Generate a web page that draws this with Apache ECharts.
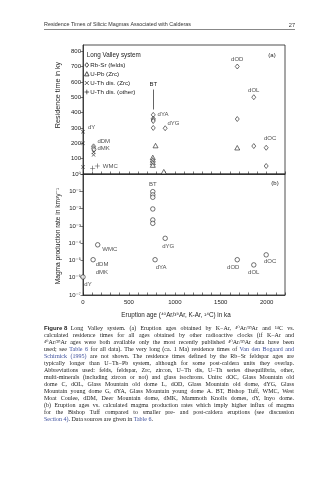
<!DOCTYPE html>
<html>
<head>
<meta charset="utf-8">
<script src="https://cdn.jsdelivr.net/npm/echarts@6/dist/echarts.min.js"></script>
<style>
  html, body { margin: 0; padding: 0; background: #fff; }
  #chart { width: 329px; height: 480px; }
</style>
</head>
<body>
<div id="chart"></div>
<script>
// Long Valley system: (a) residence times and (b) magma production rates vs. eruption age

// ---- (a) residence times (ky) by dating method ----
const rbSrAge = [115, 115, 120, 765, 765, 765, 765, 765, 895, 1680, 1680, 1860, 1860, 1995, 1995];
const rbSrResidence = [180, 168, 158, 385, 360, 352, 345, 300, 298, 700, 358, 500, 182, 171, 52];
const rbSrUnit = ['dDM', 'dMK', '', 'dYA', '', '', '', '', 'dYG', 'dOD', '', 'dOL', '', 'dOC', ''];

const uPbAge = [790, 760, 760, 760, 760, 880, 1680];
const uPbResidence = [185, 108, 92, 75, 58, 15, 171];

const uThZrcAge = [0, 0, 0, 115, 115];
const uThZrcResidence = [275, 200, 45, 142, 125];
const uThZrcUnit = ['dY', '', '', '', ''];

const uThOtherAge = [105, 156];
const uThOtherResidence = [37, 52];
const uThOtherUnit = ['', 'WMC'];

// ---- (b) magma production rate (km3/y) ----
const rateAge = [760, 760, 760, 760, 760, 760, 0, 110, 160, 785, 895, 1680, 1860, 1995];
const rateValue = [0.095, 0.062, 0.045, 0.0095, 0.0022, 0.0014, 1.1e-6, 1.1e-5, 8e-5, 1.1e-5, 1.9e-4, 1.1e-5, 5.5e-6, 2.1e-5];
const rateUnit = ['BT', '', '', '', '', '', 'dY', 'dDM\ndMK', 'WMC', 'dYA', 'dYG', 'dOD', 'dOL', 'dOC'];

// ---- axes ----
const ageTickLabels = [0, 500, 1000, 1500, 2000];
const residenceTickLabels = [100, 200, 300, 400, 500, 600, 700, 800];
const bishopTuffAge = 765;

const SANS = '"Liberation Sans", Arial, "DejaVu Sans", sans-serif';
const SERIF = '"Liberation Serif", "Times New Roman", "DejaVu Serif", serif';
const INK = '#222';
const LINK = '#3d4f9c';

const ageTicks = Array.from({ length: 23 }, (_, i) => i * 100);
const residenceTicks = [0].concat(residenceTickLabels);

const SUP = { '0': '⁰', '1': '¹', '2': '²', '3': '³', '4': '⁴', '5': '⁵', '6': '⁶', '7': '⁷', '8': '⁸', '9': '⁹', '-': '⁻' };
const toSup = s => String(s).split('').map(c => SUP[c] || c).join('');

// where each unit label sits relative to its point
const placeA = {
  dY: { position: 'right', distance: 3, offset: [0, -4] },
  dDM: { position: 'right', distance: 1.5, offset: [0, -5] },
  dMK: { position: 'right', distance: 1.5, offset: [0, 0] },
  WMC: { position: 'right', distance: 3, offset: [0, 0] },
  dYA: { position: 'right', distance: 2, offset: [0, -1] },
  dYG: { position: 'right', distance: 0, offset: [0, -5] },
  dOD: { position: 'top', distance: 0 },
  dOL: { position: 'top', distance: 0 },
  dOC: { position: 'top', distance: 0, offset: [4, -2] }
};
const placeB = {
  BT: { position: 'top', distance: 1 },
  WMC: { position: 'right', distance: 2, offset: [0, 5] },
  'dDM\ndMK': { position: 'right', distance: 0, offset: [0, 9] },
  dY: { position: 'bottom', distance: 1, offset: [5, 0] },
  dYA: { position: 'bottom', distance: 1, offset: [6, 0] },
  dYG: { position: 'bottom', distance: 1, offset: [3, 0] },
  dOD: { position: 'bottom', distance: 1, offset: [-4, 0] },
  dOL: { position: 'bottom', distance: 1 },
  dOC: { position: 'bottom', distance: 1, offset: [4, -1] }
};

function labelled(xs, ys, names, placement) {
  return xs.map((x, i) => {
    const item = { value: [x, ys[i]] };
    const n = names && names[i];
    if (n) {
      item.label = Object.assign({
        show: true, formatter: n, color: INK, fontFamily: SANS, fontSize: 6, lineHeight: 8
      }, placement[n] || {});
    }
    return item;
  });
}

const openStyle = { color: '#fff', borderColor: INK, borderWidth: 0.8 };
const solidStyle = { color: INK, borderWidth: 0 };
const CROSS = 'path://M0,1L1,0L5,4L9,0L10,1L6,5L10,9L9,10L5,6L1,10L0,9L4,5Z';
const PLUS = 'path://M4.4,0H5.6V4.4H10V5.6H5.6V10H4.4V5.6H0V4.4H4.4Z';

const axisLineStyle = { color: INK, width: 0.8 };
const tickStyle = { color: INK, width: 0.6 };
const tickLabelStyle = { color: INK, fontFamily: SANS, fontSize: 6 };

// ---- legend (panel a) ----
const legendRows = [
  { name: 'Rb-Sr (felds)', shape: 'diamond' },
  { name: 'U-Pb (Zrc)', shape: 'triangle' },
  { name: 'U-Th dis. (Zrc)', shape: 'cross' },
  { name: 'U-Th dis. (other)', shape: 'plus' }
];
function legendGraphics() {
  const out = [];
  const x = 86.8, y0 = 65, step = 9;
  legendRows.forEach((row, i) => {
    const y = y0 + i * step;
    if (row.shape === 'diamond') {
      out.push({ type: 'polygon', shape: { points: [[x, y - 2.3], [x + 1.9, y], [x, y + 2.3], [x - 1.9, y]] },
        style: { fill: '#fff', stroke: INK, lineWidth: 0.8 }, silent: true });
    } else if (row.shape === 'triangle') {
      out.push({ type: 'polygon', shape: { points: [[x, y - 2.3], [x + 2.2, y + 1.9], [x - 2.2, y + 1.9]] },
        style: { fill: '#fff', stroke: INK, lineWidth: 0.8 }, silent: true });
    } else if (row.shape === 'cross') {
      out.push({ type: 'line', shape: { x1: x - 2, y1: y - 2, x2: x + 2, y2: y + 2 }, style: { stroke: INK, lineWidth: 0.7 }, silent: true });
      out.push({ type: 'line', shape: { x1: x - 2, y1: y + 2, x2: x + 2, y2: y - 2 }, style: { stroke: INK, lineWidth: 0.7 }, silent: true });
    } else {
      out.push({ type: 'line', shape: { x1: x - 2.3, y1: y, x2: x + 2.3, y2: y }, style: { stroke: INK, lineWidth: 0.7 }, silent: true });
      out.push({ type: 'line', shape: { x1: x, y1: y - 2.3, x2: x, y2: y + 2.3 }, style: { stroke: INK, lineWidth: 0.7 }, silent: true });
    }
    out.push({ type: 'text', x: 90.3, y: y, silent: true,
      style: { text: row.name, fill: INK, font: '6.2px ' + SANS, textAlign: 'left', textVerticalAlign: 'middle', align: 'left', verticalAlign: 'middle' } });
  });
  return out;
}

// ---- caption (justified) ----
const captionLines = [
  '**Figure\u00a08\u00a0\u00a0**Long Valley system. (a) Eruption ages obtained by K\u2212Ar, ⁴⁰Ar/³⁹Ar and ¹⁴C vs.',
  'calculated residence times for all ages obtained by other radioactive clocks (if K\u2212Ar and',
  '⁴⁰Ar/³⁹Ar ages were both available only the most recently published ⁴⁰Ar/³⁹Ar data have been',
  'used; see [Table 6] for all data). The very long (ca. 1 Ma) residence times of [Van den Bogaard and]',
  '[Schirnick (1995)] are not shown. The residence times defined by the Rb\u2212Sr feldspar ages are',
  'typically longer than U\u2212Th\u2212Pb system, although for some post-caldera units they overlap.',
  'Abbreviations used: felds, feldspar, Zrc, zircon, U\u2212Th dis, U\u2212Th series disequilibria, other,',
  'multi-minerals (including zircon or not) and glass isochrons. Units: dOC, Glass Mountain old',
  'dome C, dOL, Glass Mountain old dome L, dOD, Glass Mountain old dome, dYG, Glass',
  'Mountain young dome G, dYA, Glass Mountain young dome A. BT, Bishop Tuff, WMC, West',
  'Moat Coulee, dDM, Deer Mountain dome, dMK, Mammoth Knolls domes, dY, Inyo dome.',
  '(b) Eruption ages vs. calculated magma production rates which imply higher influx of magma',
  'for the Bishop Tuff compared to smaller pre- and post-caldera eruptions (see discussion',
  '[Section 4)]. Data sources are given in [Table 6].'
];
const CAP_LEFT = 44, CAP_RIGHT = 294, CAP_TOP = 328, CAP_STEP = 7;
const FONTS = {
  plain: '6px ' + SERIF,
  link: '6px ' + SERIF,
  bold: 'bold 6px ' + SANS
};
const measureCtx = document.createElement('canvas').getContext('2d');
function measure(text, kind) { measureCtx.font = FONTS[kind]; return measureCtx.measureText(text).width; }

function captionGraphics() {
  const out = [];
  captionLines.forEach((line, li) => {
    // character stream tagged with style, then words of styled runs
    const chars = [];
    line.split(/(\*\*[^*]+\*\*|\[[^\]]+\])/).forEach(seg => {
      if (!seg) return;
      let kind = 'plain', body = seg;
      if (seg.startsWith('**')) { kind = 'bold'; body = seg.slice(2, -2); }
      else if (seg.startsWith('[')) { kind = 'link'; body = seg.slice(1, -1); }
      for (const c of body) chars.push({ c, kind });
    });
    const words = [];
    let cur = [];
    chars.forEach(ch => {
      if (ch.c === ' ') { if (cur.length) words.push(cur); cur = []; return; }
      const last = cur[cur.length - 1];
      if (last && last.kind === ch.kind) last.text += ch.c; else cur.push({ text: ch.c, kind: ch.kind });
    });
    if (cur.length) words.push(cur);
    const widths = words.map(w => w.reduce((s, r) => s + measure(r.text, r.kind), 0));
    const total = widths.reduce((a, b) => a + b, 0);
    const isLast = li === captionLines.length - 1;
    const space = measure(' ', 'plain');
    const gap = isLast ? space : Math.max(0.6, (CAP_RIGHT - CAP_LEFT - total) / Math.max(1, words.length - 1));
    let x = CAP_LEFT;
    const y = CAP_TOP + li * CAP_STEP;
    words.forEach((w, wi) => {
      let rx = x;
      w.forEach(r => {
        out.push({ type: 'text', x: rx, y: y, silent: true,
          style: { text: r.text, font: FONTS[r.kind], fill: r.kind === 'link' ? LINK : INK,
            textAlign: 'left', textVerticalAlign: 'middle', align: 'left', verticalAlign: 'middle' } });
        rx += measure(r.text, r.kind);
      });
      x += widths[wi] + gap;
    });
  });
  return out;
}

function textEl(text, x, y, font, opts) {
  return Object.assign({ type: 'text', x: x, y: y, silent: true,
    style: Object.assign({ text: text, font: font, fill: INK, textAlign: 'left', textVerticalAlign: 'middle',
      align: 'left', verticalAlign: 'middle' }, (opts && opts.style) || {}) }, (opts && opts.el) || {});
}

const chart = echarts.init(document.getElementById('chart'), null, { renderer: 'canvas' });

const option = {
  animation: false,
  backgroundColor: '#fff',
  textStyle: { fontFamily: SANS },
  grid: [
    { left: 83, top: 45, width: 202, height: 129, show: true, borderColor: INK, borderWidth: 0.8, backgroundColor: 'transparent' },
    { left: 83, top: 174, width: 202, height: 121, show: true, borderColor: INK, borderWidth: 0.8, backgroundColor: 'transparent' }
  ],
  xAxis: [
    {
      gridIndex: 0, type: 'value', min: 0, max: 2200,
      axisLine: { show: true, lineStyle: axisLineStyle },
      axisTick: { show: true, inside: true, length: 2.5, lineStyle: tickStyle, customValues: ageTicks },
      axisLabel: { show: false },
      splitLine: { show: false }
    },
    {
      gridIndex: 1, type: 'value', min: 0, max: 2200,
      axisLine: { show: true, lineStyle: axisLineStyle },
      axisTick: { show: true, inside: true, length: 2.5, lineStyle: tickStyle, customValues: ageTicks },
      axisLabel: Object.assign({ customValues: ageTickLabels, margin: 4, formatter: v => String(v) }, tickLabelStyle),
      splitLine: { show: false }
    }
  ],
  yAxis: [
    {
      gridIndex: 0, type: 'value', min: 0, max: 840,
      axisLine: { show: true, lineStyle: axisLineStyle },
      axisTick: { show: true, inside: false, length: 2.5, lineStyle: tickStyle, customValues: residenceTicks },
      axisLabel: Object.assign({ customValues: residenceTickLabels, margin: 2, formatter: v => String(v) }, tickLabelStyle),
      splitLine: { show: false }
    },
    {
      gridIndex: 1, type: 'log', logBase: 10, min: 1e-7, max: 1, interval: 1, splitNumber: 7,
      axisLine: { show: true, lineStyle: axisLineStyle },
      axisTick: { show: true, inside: false, length: 2.5, lineStyle: tickStyle },
      axisLabel: Object.assign({ margin: 2, formatter: v => '10' + toSup(Math.round(Math.log10(v))) }, tickLabelStyle),
      splitLine: { show: false }
    }
  ],
  series: [
    {
      name: 'Rb-Sr (felds)', type: 'scatter', xAxisIndex: 0, yAxisIndex: 0,
      symbol: 'diamond', symbolSize: [4, 5], itemStyle: openStyle, emphasis: { disabled: true },
      data: labelled(rbSrAge, rbSrResidence, rbSrUnit, placeA),
      markLine: {
        silent: true, animation: false, symbol: ['none', 'arrow'], symbolSize: [0, 4],
        lineStyle: { color: INK, width: 0.7, type: 'solid' },
        label: { show: true, position: 'start', formatter: 'BT', distance: 2, color: INK, fontFamily: SANS, fontSize: 6 },
        data: [[{ coord: [bishopTuffAge, 550] }, { coord: [bishopTuffAge, 420] }]]
      }
    },
    {
      name: 'U-Pb (Zrc)', type: 'scatter', xAxisIndex: 0, yAxisIndex: 0,
      symbol: 'triangle', symbolSize: [5, 4.5], itemStyle: openStyle, emphasis: { disabled: true },
      data: labelled(uPbAge, uPbResidence, null, placeA)
    },
    {
      name: 'U-Th dis. (Zrc)', type: 'scatter', xAxisIndex: 0, yAxisIndex: 0,
      symbol: CROSS, symbolSize: 4, itemStyle: solidStyle, emphasis: { disabled: true },
      data: labelled(uThZrcAge, uThZrcResidence, uThZrcUnit, placeA)
    },
    {
      name: 'U-Th dis. (other)', type: 'scatter', xAxisIndex: 0, yAxisIndex: 0,
      symbol: PLUS, symbolSize: 5, itemStyle: solidStyle, emphasis: { disabled: true },
      data: labelled(uThOtherAge, uThOtherResidence, uThOtherUnit, placeA)
    },
    {
      name: 'Magma production rate', type: 'scatter', xAxisIndex: 1, yAxisIndex: 1,
      symbol: 'circle', symbolSize: 4.5, itemStyle: openStyle, emphasis: { disabled: true },
      data: labelled(rateAge, rateValue, rateUnit, placeB)
    }
  ],
  graphic: {
    elements: [
      // running head
      textEl('Residence Times of Silicic Magmas Associated with Calderas', 44, 25, '5.4px ' + SANS, { style: { fill: '#333' } }),
      textEl('27', 295, 25, '5.6px ' + SANS, { style: { fill: '#333', textAlign: 'right', align: 'right' } }),
      { type: 'line', silent: true, shape: { x1: 44, y1: 29.5, x2: 295, y2: 29.5 }, style: { stroke: '#555', lineWidth: 0.7 } },
      // panel titles and tags
      textEl('Long Valley system', 86.7, 55, '6.3px ' + SANS),
      textEl('(a)', 272, 55, '6px ' + SANS, { style: { textAlign: 'center', align: 'center' } }),
      textEl('(b)', 275, 183, '6px ' + SANS, { style: { textAlign: 'center', align: 'center' } }),
      // axis titles
      textEl('Residence time in ky', 58, 95, '7.2px ' + SANS,
        { el: { rotation: Math.PI / 2 }, style: { textAlign: 'center', align: 'center' } }),
      textEl('Magma production rate in km³y⁻¹', 58, 236, '6.6px ' + SANS,
        { el: { rotation: Math.PI / 2 }, style: { textAlign: 'center', align: 'center' } }),
      textEl('Eruption age (⁴⁰Ar/³⁹Ar, K-Ar, ¹⁴C) in ka', 176, 315, '6.3px ' + SANS,
        { style: { textAlign: 'center', align: 'center' } })
    ].concat(legendGraphics(), captionGraphics())
  }
};

chart.setOption(option);
</script>
</body>
</html>
